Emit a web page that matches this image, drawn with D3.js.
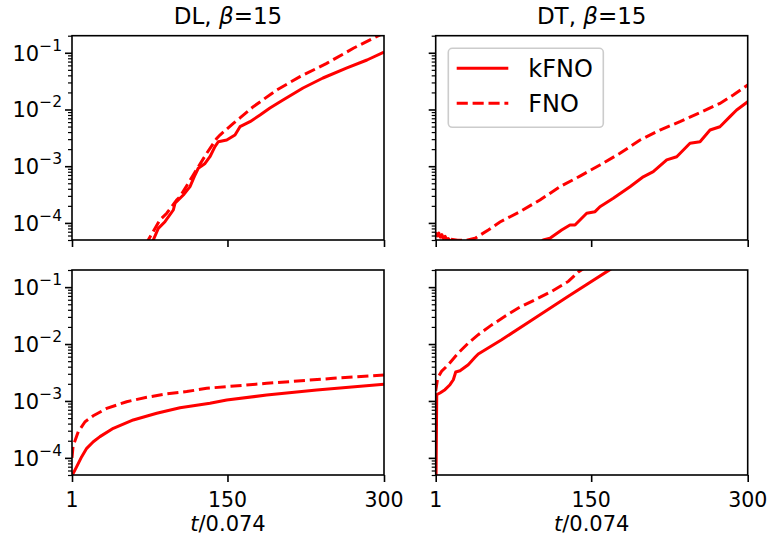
<!DOCTYPE html>
<html>
<head>
<meta charset="utf-8">
<script src="https://cdn.jsdelivr.net/npm/d3@7"></script>
<style>
  body { margin: 0; background: #fff; }
  svg { display: block; }
  text { font-family: "DejaVu Sans", sans-serif; fill: #000; }
</style>
</head>
<body>
<svg id="chart" width="771" height="546"></svg>
<script>
// ---- data -----------------------------------------------------------------
const xTicks = [1, 150, 300];
const yMajorTicks = [1e-4, 1e-3, 1e-2, 1e-1];
const yExponents = ["\u22124", "\u22123", "\u22122", "\u22121"];
const yDomain = [5e-5, 0.2];
const xDomain = [1, 300];
const seriesNames = ["kFNO", "FNO"];
const columnNames = ["DL", "DT"];
const betaValue = "15";
const timeUnit = "/0.074";

// DL, top row
const dlTopKfnoT = [70, 78.9, 83.7, 90.1, 98.1, 99.7, 107.7, 114.1, 118.9, 122, 128.5, 133.2, 138, 141.2, 149.3, 157.2, 162, 171.6, 181.2, 190.7, 203.2, 222.4, 241.5, 264.5, 283.7, 300];
const dlTopKfnoV = [2.2e-5, 5.0e-5, 8.0e-5, 1.05e-4, 1.69e-4, 2.22e-4, 3.11e-4, 4.36e-4, 7.0e-4, 9.2e-4, 1.12e-3, 1.47e-3, 2.21e-3, 2.70e-3, 2.90e-3, 3.55e-3, 4.97e-3, 6.1e-3, 8.0e-3, 1.06e-2, 1.47e-2, 2.39e-2, 3.59e-2, 5.4e-2, 7.46e-2, 0.103];
const dlTopFnoT = [66, 74.1, 85.3, 91.8, 101.3, 104.5, 117.2, 130.1, 139.7, 142.8, 155.6, 162, 174.7, 197.2, 219.5, 245.1, 270.6, 289.7, 300];
const dlTopFnoV = [2.2e-5, 5.0e-5, 1.13e-4, 1.48e-4, 2.54e-4, 2.90e-4, 7.0e-4, 1.69e-3, 3.10e-3, 3.55e-3, 5.7e-3, 7.1e-3, 1.12e-2, 2.21e-2, 3.79e-2, 6.5e-2, 0.12, 0.18, 0.223];

// DT, top row
const dtTopKfnoT = [1, 2.5, 4, 5.5, 7, 8.5, 10, 11.5, 13, 15, 25, 60, 95, 104.1, 110.5, 121.7, 129.7, 134.5, 145.7, 153.7, 158.4, 171.2, 187.2, 199.9, 209.5, 222.4, 232, 244.7, 254.3, 263.9, 273.4, 283, 289.4, 300];
const dtTopKfnoV = [6.8e-5, 5.9e-5, 6.6e-5, 5.6e-5, 6.2e-5, 5.3e-5, 5.8e-5, 5.1e-5, 5.3e-5, 4.8e-5, 3.8e-5, 2.6e-5, 3.6e-5, 5.0e-5, 5.36e-5, 7.5e-5, 9.2e-5, 9.2e-5, 1.48e-4, 1.58e-4, 1.93e-4, 2.72e-4, 4.35e-4, 6.5e-4, 8.0e-4, 1.29e-3, 1.47e-3, 2.54e-3, 2.70e-3, 4.35e-3, 4.97e-3, 7.5e-3, 9.8e-3, 1.37e-2];
const dtTopFnoT = [1, 8, 15, 22, 30, 38.7, 51.4, 62.6, 81.8, 100.9, 120.1, 139.3, 158.4, 177.6, 196.8, 215.9, 235.1, 254.3, 273.4, 286.2, 300];
const dtTopFnoV = [6.2e-5, 5.6e-5, 5.2e-5, 4.97e-5, 4.9e-5, 5.36e-5, 7.5e-5, 1.04e-4, 1.58e-4, 2.54e-4, 4.35e-4, 6.7e-4, 1.05e-3, 1.69e-3, 2.9e-3, 4.35e-3, 6.1e-3, 8.8e-3, 1.28e-2, 1.80e-2, 2.70e-2];

// DL, bottom row
const dlBotKfnoT = [1, 2.2, 5.5, 10.3, 15.1, 21.4, 27.8, 40.6, 59.7, 82.2, 104.5, 133.2, 149.3, 187.6, 235.5, 300];
const dlBotKfnoV = [5.2e-5, 5.35e-5, 7.0e-5, 1.05e-4, 1.47e-4, 1.92e-4, 2.36e-4, 3.31e-4, 4.63e-4, 6.07e-4, 7.6e-4, 9.1e-4, 1.04e-3, 1.27e-3, 1.56e-3, 1.96e-3];
const dlBotFnoT = [1, 2, 7, 13.5, 21.4, 34.3, 53.4, 72.6, 91.8, 110.9, 130.1, 187.6, 251.4, 300];
const dlBotFnoV = [1.0e-4, 1.6e-4, 2.88e-4, 4.32e-4, 5.5e-4, 7.4e-4, 9.7e-4, 1.16e-3, 1.33e-3, 1.46e-3, 1.67e-3, 2.04e-3, 2.50e-3, 2.86e-3];

// DT, bottom row
const dtBotKfnoT = [1, 2, 5.1, 9.9, 14.7, 17.9, 20.2, 24.3, 32.2, 38.7, 41.8, 64.2, 96.2, 128.1, 166.4, 180];
const dtBotKfnoV = [1e-5, 1.29e-3, 1.38e-3, 1.58e-3, 1.93e-3, 2.36e-3, 3.23e-3, 3.40e-3, 4.34e-3, 5.85e-3, 6.7e-3, 1.19e-2, 2.87e-2, 6.9e-2, 0.195, 0.28];
const dtBotFnoT = [1, 2.9, 6.7, 13.1, 22.7, 32.2, 41.8, 54.7, 67.4, 80.2, 96.2, 112.2, 128.1, 137.7, 150];
const dtBotFnoV = [1.5e-3, 2.53e-3, 3.32e-3, 4.34e-3, 6.96e-3, 1.04e-2, 1.46e-2, 2.17e-2, 3.07e-2, 4.3e-2, 6.0e-2, 8.45e-2, 0.126, 0.185, 0.26];

// ---- layout ---------------------------------------------------------------
const colX = [[72, 384], [435.7, 747.7]];
const rowY = [[35.7, 240], [270, 475]];
const lineColor = "#ff0000";
const lineWidth = 3;
const dashPattern = "11.1,4.8";

const panels = [
  { row: 0, col: 0, kT: dlTopKfnoT, kV: dlTopKfnoV, fT: dlTopFnoT, fV: dlTopFnoV },
  { row: 0, col: 1, kT: dtTopKfnoT, kV: dtTopKfnoV, fT: dtTopFnoT, fV: dtTopFnoV },
  { row: 1, col: 0, kT: dlBotKfnoT, kV: dlBotKfnoV, fT: dlBotFnoT, fV: dlBotFnoV },
  { row: 1, col: 1, kT: dtBotKfnoT, kV: dtBotKfnoV, fT: dtBotFnoT, fV: dtBotFnoV }
];

const svg = d3.select("#chart");
svg.append("rect").attr("width", 771).attr("height", 546).attr("fill", "#fff");
const defs = svg.append("defs");

panels.forEach((p, i) => {
  const [x0, x1] = colX[p.col];
  const [y0, y1] = rowY[p.row];
  const x = d3.scaleLinear().domain(xDomain).range([x0, x1]);
  const y = d3.scaleLog().domain(yDomain).range([y1, y0]);

  const clipId = "clip" + i;
  defs.append("clipPath").attr("id", clipId)
    .append("rect").attr("x", x0).attr("y", y0).attr("width", x1 - x0).attr("height", y1 - y0);

  const g = svg.append("g");

  // curves
  const line = d3.line().x(d => x(d[0])).y(d => y(d[1]));
  const plot = g.append("g").attr("clip-path", `url(#${clipId})`);
  plot.append("path")
    .attr("d", line(p.kT.map((t, j) => [t, p.kV[j]])))
    .attr("fill", "none").attr("stroke", lineColor).attr("stroke-width", lineWidth)
    .attr("stroke-linejoin", "round");
  plot.append("path")
    .attr("d", line(p.fT.map((t, j) => [t, p.fV[j]])))
    .attr("fill", "none").attr("stroke", lineColor).attr("stroke-width", lineWidth)
    .attr("stroke-dasharray", dashPattern);

  // y minor ticks
  const minor = y.ticks().filter(v => !yMajorTicks.some(m => Math.abs(m - v) / m < 1e-9))
    .filter(v => v >= yDomain[0] * 0.999 && v <= yDomain[1] * 1.001);
  const yMinorAxis = g.append("g").attr("transform", `translate(${x0},0)`)
    .call(d3.axisLeft(y).tickValues(minor).tickSize(4).tickFormat(""));
  yMinorAxis.select(".domain").remove();
  yMinorAxis.selectAll("line").attr("stroke", "#000").attr("stroke-width", 1.2);

  // y major ticks
  const yMajorAxis = g.append("g").attr("transform", `translate(${x0},0)`)
    .call(d3.axisLeft(y).tickValues(yMajorTicks).tickSize(7).tickFormat(""));
  yMajorAxis.select(".domain").remove();
  yMajorAxis.selectAll("line").attr("stroke", "#000").attr("stroke-width", 1.6);

  // x major ticks
  const xAxis = g.append("g").attr("transform", `translate(0,${y1})`)
    .call(d3.axisBottom(x).tickValues(xTicks).tickSize(7).tickFormat(""));
  xAxis.select(".domain").remove();
  xAxis.selectAll("line").attr("stroke", "#000").attr("stroke-width", 1.6);

  // y tick labels, left column only
  if (p.col === 0) {
    yMajorTicks.forEach((v, j) => {
      const t = g.append("text")
        .attr("x", x0 - 10).attr("y", y(v) + 8)
        .attr("text-anchor", "end").attr("font-size", 21);
      t.append("tspan").text("10");
      t.append("tspan").attr("font-size", 15.5).attr("dy", -10).text(yExponents[j]);
    });
  }

  // x tick labels and axis title, bottom row only
  if (p.row === 1) {
    xTicks.forEach(v => {
      g.append("text").attr("x", x(v)).attr("y", y1 + 31.5)
        .attr("text-anchor", "middle").attr("font-size", 20.5).text(v);
    });
    const lab = g.append("text").attr("x", (x0 + x1) / 2).attr("y", y1 + 56)
      .attr("text-anchor", "middle").attr("font-size", 21);
    lab.append("tspan").attr("font-style", "italic").text("t");
    lab.append("tspan").text(timeUnit);
  }

  // column titles
  if (p.row === 0) {
    const tt = g.append("text").attr("x", (x0 + x1) / 2).attr("y", y0 - 12)
      .attr("text-anchor", "middle").attr("font-size", 23);
    tt.append("tspan").text(columnNames[p.col] + ", ");
    tt.append("tspan").attr("font-style", "italic").text("\u03b2");
    tt.append("tspan").text("=" + betaValue);
  }

  // frame
  g.append("rect").attr("x", x0).attr("y", y0).attr("width", x1 - x0).attr("height", y1 - y0)
    .attr("fill", "none").attr("stroke", "#000").attr("stroke-width", 1.6);

  // legend in the DT top panel
  if (p.row === 0 && p.col === 1) {
    const lg = g.append("g");
    lg.append("rect").attr("x", 448.3).attr("y", 48.3).attr("width", 155).attr("height", 79)
      .attr("rx", 4).attr("fill", "#fff").attr("fill-opacity", 0.8)
      .attr("stroke", "#cccccc").attr("stroke-width", 1.6);
    seriesNames.forEach((name, j) => {
      const ly = 68.3 + j * 35;
      lg.append("line").attr("x1", 456.7).attr("x2", 508.3).attr("y1", ly).attr("y2", ly)
        .attr("stroke", lineColor).attr("stroke-width", lineWidth)
        .attr("stroke-dasharray", j === 1 ? dashPattern : null);
      lg.append("text").attr("x", 528.3).attr("y", ly + 8.5).attr("font-size", 24).text(name);
    });
  }
});
</script>
</body>
</html>
